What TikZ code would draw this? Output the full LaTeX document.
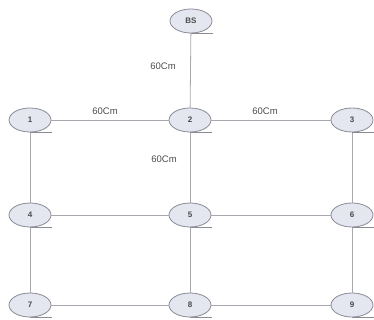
\documentclass[tikz,border=0pt]{standalone}
\usepackage{fontspec}
\setmainfont{Liberation Sans}
\usetikzlibrary{shapes.geometric}
\definecolor{nodefill}{HTML}{E4E6F0}
\definecolor{nodeline}{HTML}{8A8A94}
\definecolor{linkline}{HTML}{A8A8B0}
\begin{document}
\begin{tikzpicture}[x=1pt,y=-1pt,
  netnode/.style={ellipse, draw=nodeline, fill=nodefill, line width=0.8pt,
    minimum width=42pt, minimum height=24pt, inner sep=0pt,
    font=\fontsize{8}{8}\selectfont\bfseries, text=black!70},
  link/.style={draw=linkline, line width=0.8pt},
  tail/.style={draw=nodeline, line width=0.8pt},
  dist/.style={font=\fontsize{9.5}{9.5}\selectfont, text=black!70, inner sep=1pt}]
\useasboundingbox (0,0) rectangle (374,320);
% links (drawn first so the nodes cover their ends)
\coordinate (pbs) at (191,21);
\coordinate (p1) at (30,120);
\coordinate (p2) at (190,120);
\coordinate (p3) at (352,120);
\coordinate (p4) at (30,215);
\coordinate (p5) at (190,215);
\coordinate (p6) at (352,215);
\coordinate (p7) at (30,305);
\coordinate (p8) at (190,305);
\coordinate (p9) at (352,305);
% nodes
\node[netnode] (bs) at (pbs) {BS};
\node[netnode] (n1) at (p1) {1};
\node[netnode] (n2) at (p2) {2};
\node[netnode] (n3) at (p3) {3};
\node[netnode] (n4) at (p4) {4};
\node[netnode] (n5) at (p5) {5};
\node[netnode] (n6) at (p6) {6};
\node[netnode] (n7) at (p7) {7};
\node[netnode] (n8) at (p8) {8};
\node[netnode] (n9) at (p9) {9};
% links between nodes
\draw[link] (bs) -- (n2);
\draw[link] (n1) -- (n2);
\draw[link] (n2) -- (n3);
\draw[link] (n2) -- (n5);
\draw[link] (n1) -- (n4);
\draw[link] (n4) -- (n7);
\draw[link] (n4) -- (n5);
\draw[link] (n5) -- (n6);
\draw[link] (n3) -- (n6);
\draw[link] (n6) -- (n9);
\draw[link] (n5) -- (n8);
\draw[link] (n7) -- (n8);
\draw[link] (n8) -- (n9);
% node tails
\foreach \n in {bs,n1,n2,n3,n4,n5,n6,n7,n8,n9}
  \draw[tail] (\n.south) -- ++(22,0);
% distance labels
\node[dist] (d1) at (163,66) {60Cm};
\node[dist] (d2) at (105,111) {60Cm};
\node[dist] (d3) at (265,111) {60Cm};
\node[dist] (d4) at (164,159) {60Cm};
\end{tikzpicture}
\end{document}
